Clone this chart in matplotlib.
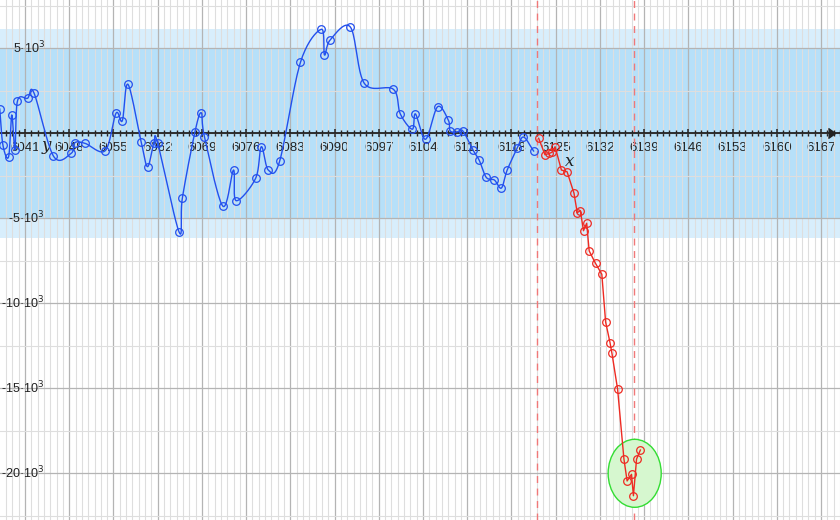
import numpy as np
import matplotlib
matplotlib.use('Agg')
import matplotlib.pyplot as plt
from matplotlib.patches import Ellipse
from matplotlib.ticker import MultipleLocator

plt.rcParams['font.family'] = ['Liberation Sans', 'DejaVu Sans']

# blue series (smooth curve)
blue_x = [6037.0, 6037.5, 6038.4, 6038.9, 6039.4, 6039.8, 6041.4, 6042.4, 6045.5, 6048.3,
          6048.9, 6050.5, 6053.7, 6055.4, 6056.4, 6057.3, 6059.4, 6060.4, 6061.4, 6062.0,
          6065.4, 6065.9, 6067.9, 6068.9, 6069.4, 6072.3, 6074.0, 6074.4, 6077.5, 6078.4,
          6079.5, 6081.3, 6084.6, 6087.9, 6088.4, 6089.3, 6092.5, 6094.7, 6099.3, 6100.4,
          6102.3, 6102.8, 6104.4, 6106.3, 6108.0, 6108.3, 6109.4, 6110.3, 6111.9, 6112.9,
          6114.0, 6115.3, 6116.4, 6117.3, 6118.9, 6119.9, 6121.5]
blue_y = [1430, -690, -1380, 1080, -980, 1900, 2060, 2390, -1340, -1180,
          -550, -590, -1020, 1180, 740, 2880, -530, -1960, -550, -590,
          -5820, -3820, 90, 1210, -200, -4280, -2160, -3960, -2650, -790,
          -2160, -1650, 4180, 6120, 4610, 5490, 6250, 2940, 2590, 1140,
          240, 1140, -350, 1560, 780, 140, 80, 140, -980, -1590,
          -2590, -2750, -3220, -2180, -880, -220, -1040]

# red series (straight segments)
red_x = [6122.3, 6123.3, 6124.0, 6124.4, 6124.9, 6125.9, 6126.8, 6127.9, 6128.4, 6128.9,
         6129.4, 6129.9, 6130.3, 6131.3, 6132.3, 6132.9, 6133.6, 6133.9, 6134.8, 6135.8,
         6136.3, 6137.0, 6137.3, 6137.8, 6138.4]
red_y = [-290, -1260, -1180, -1120, -790, -2160, -2260, -3530, -4670, -4550,
         -5730, -5290, -6920, -7650, -8290, -11100, -12320, -12940, -15060, -19160,
         -20450, -20060, -21320, -19160, -18630]

split_lines = [6122.05, 6137.45]
outer_band = 6150
inner_band = 5000
y_ticks = [5000, -5000, -10000, -15000, -20000]
y_labels = ['5·10$^3$', '-5·10$^3$', '-10·10$^3$', '-15·10$^3$', '-20·10$^3$']


def catmull_rom(xs, ys, n=20):
    p = np.column_stack([xs, ys]).astype(float)
    p = np.vstack([2 * p[0] - p[1], p, 2 * p[-1] - p[-2]])
    t = np.linspace(0, 1, n, endpoint=False)[:, None]
    out = []
    for i in range(1, len(p) - 2):
        p0, p1, p2, p3 = p[i - 1], p[i], p[i + 1], p[i + 2]
        seg = 0.5 * (2 * p1 + (-p0 + p2) * t + (2 * p0 - 5 * p1 + 4 * p2 - p3) * t ** 2
                     + (-p0 + 3 * p1 - 3 * p2 + p3) * t ** 3)
        out.append(seg)
    out.append(p[-2][None, :])
    out = np.vstack(out)
    return out[:, 0], out[:, 1]


fig = plt.figure(figsize=(8.4, 5.2), dpi=100)
ax = fig.add_axes([0, 0, 1, 1])
ax.set_xlim(6037.04, 6170.0)
ax.set_ylim(-22746, 7841)

# bands
ax.axhspan(-outer_band, outer_band, color='#d8eefc', zorder=0.2, lw=0)
ax.axhspan(-inner_band, inner_band, color='#b6e0f9', zorder=0.3, lw=0)

# grid
ax.xaxis.set_major_locator(MultipleLocator(7))
ax.xaxis.set_minor_locator(MultipleLocator(1))
ax.yaxis.set_major_locator(MultipleLocator(5000))
ax.yaxis.set_minor_locator(MultipleLocator(2500))
ax.set_axisbelow('line')
ax.grid(which='major', color='#b4b4b4', lw=0.9)
ax.grid(which='minor', color='#dedede', lw=0.8)

# x axis through zero
for s in ['left', 'right', 'top']:
    ax.spines[s].set_visible(False)
ax.spines['bottom'].set_position(('data', 0))
ax.spines['bottom'].set_color('#222222')
ax.spines['bottom'].set_linewidth(1.3)
ax.spines['bottom'].set_zorder(3)
ax.tick_params(axis='x', which='major', direction='inout', length=6, width=1.1,
               color='#222222', labelsize=9.5, pad=3, labelcolor='#222222')
ax.tick_params(axis='x', which='minor', direction='inout', length=4, width=1,
               color='#222222')
ax.tick_params(axis='y', which='both', length=0, labelleft=False)
ax.plot(0.994, 0, marker=5, color='#222222', ms=7, transform=ax.get_yaxis_transform(),
        clip_on=False, zorder=4)

# y labels at left edge
for v, lab in zip(y_ticks, y_labels):
    ax.text(0.053, v, lab, transform=ax.get_yaxis_transform(), ha='right',
            va='center', fontsize=9, color='#222222')

ax.text(6044.3, -700, 'y', fontsize=12, style='italic', family='DejaVu Serif',
        ha='center', va='center', color='#222222')
ax.text(6127.2, -1650, 'x', fontsize=12, style='italic', family='DejaVu Serif',
        ha='center', va='center', color='#222222')

# dashed split lines
for xv in split_lines:
    ax.axvline(xv, color='#f07878', lw=1, ls=(0, (5, 4)), zorder=2)

# highlighted region
ax.add_patch(Ellipse((6137.5, -20000), 8.4, 4000, facecolor='#d6f7cf',
                     edgecolor='#33dd33', lw=1, zorder=2.5))

cx, cy = catmull_rom(blue_x, blue_y)
ax.plot(cx, cy, color='#2350ee', lw=1, zorder=5)
ax.plot(blue_x, blue_y, 'o', mfc='none', mec='#2350ee', ms=5.5, mew=0.9, zorder=6)

ax.plot(red_x, red_y, '-o', color='#ee2a22', lw=1, mfc='none', ms=5.5, mew=0.9, zorder=6)

fig.savefig('out.png', dpi=100)
